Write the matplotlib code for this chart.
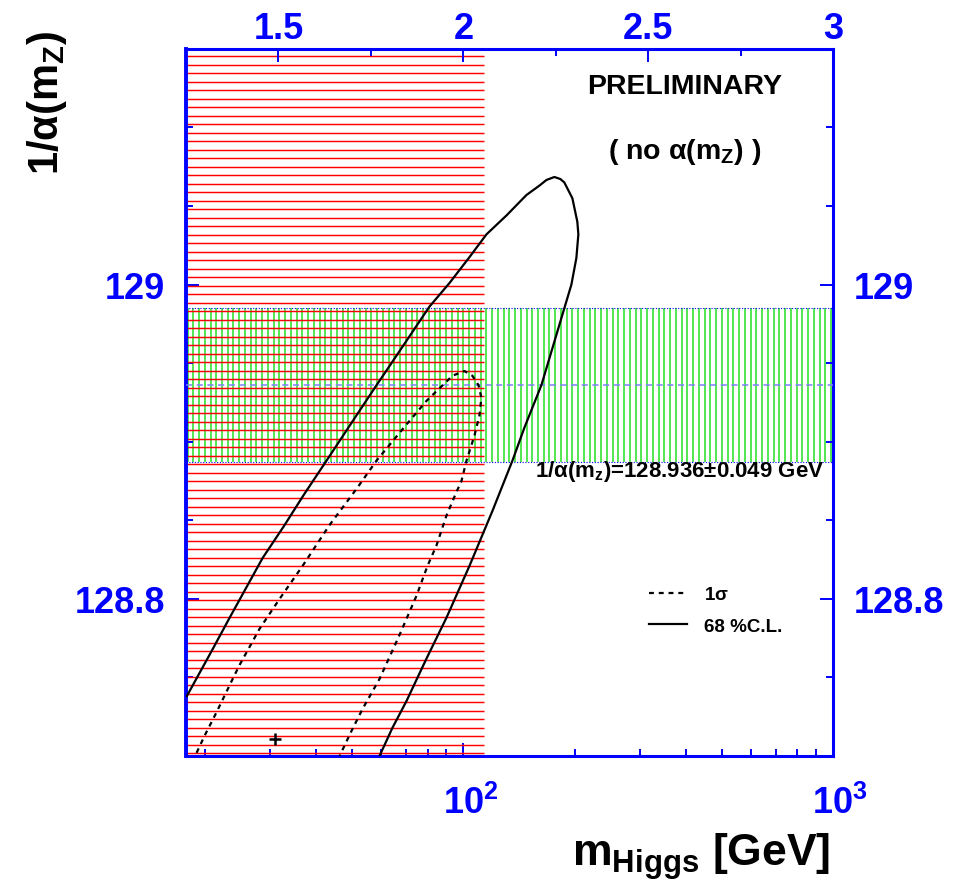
import numpy as np
import matplotlib
matplotlib.use('Agg')
import matplotlib.pyplot as plt
import matplotlib.transforms as mtransforms
from matplotlib.ticker import FixedLocator, MultipleLocator, LogLocator, NullFormatter, FuncFormatter

plt.rcParams['font.family'] = ['Liberation Sans', 'DejaVu Sans']
plt.rcParams['font.weight'] = 'bold'
plt.rcParams['mathtext.fontset'] = 'custom'
plt.rcParams['mathtext.rm'] = 'Liberation Sans:bold'
plt.rcParams['mathtext.bf'] = 'Liberation Sans:bold'
plt.rcParams['mathtext.sf'] = 'Liberation Sans:bold'
plt.rcParams['mathtext.it'] = 'Liberation Sans'

# 68% C.L. contour (solid), mH in GeV vs 1/alpha(mZ)
mh_68 = [17.86, 20.99, 23.33, 28.65, 32.65, 37.21, 42.94, 50.16, 58.24, 64.33,
         80.98, 91.73, 103.9, 115.5, 130.8, 148.1, 160.6, 167.8, 176.3, 183.0, 187.6, 197.2,
         203.4, 204.7, 202.2, 196.0, 187.6, 162.6, 146.3, 135.8, 119.9, 103.9,
         90.03, 79.50, 70.20, 64.33, 59.33]
ia_68 = [128.738, 128.768, 128.788, 128.826, 128.846, 128.867, 128.889, 128.913, 128.936, 128.951,
         128.986, 129.001, 129.0175, 129.032, 129.044, 129.057, 129.063, 129.0666, 129.0685, 129.0672,
         129.065, 129.055,
         129.040, 129.032, 129.017, 129.000, 128.985, 128.936, 128.909, 128.888, 128.856, 128.821,
         128.788, 128.762, 128.735, 128.718, 128.700]

# 1 sigma contour (dashed)
mh_1s = [18.99, 19.97, 21.52, 23.77, 24.83, 28.12, 31.85, 36.75, 43.47, 51.42,
         58.24, 70.20, 79.50, 93.46, 100.7, 105.8, 109.9, 111.9, 110.6, 107.2,
         102.0, 98.83, 95.8, 90.03, 84.6, 80.0, 74.7, 67.2, 59.33, 53.4,
         49.85, 46.27]
ia_1s = [128.702, 128.713, 128.728, 128.749, 128.758, 128.781, 128.800, 128.821, 128.847, 128.870,
         128.888, 128.911, 128.926, 128.942, 128.945, 128.942, 128.936, 128.928, 128.917, 128.904,
         128.888, 128.875, 128.868, 128.853, 128.834, 128.821, 128.802, 128.777, 128.749, 128.730,
         128.716, 128.700]

ia_meas = 128.936
ia_err = 0.049
mh_lep = 114.0
fit_mh = 31.0
fit_ia = 128.711

x_range = (10 ** 1.25, 1000.0)
y_range = (128.70, 129.15)
top_ticks = [1.5, 2.0, 2.5, 3.0]

blue = '#0000ff'

fig = plt.figure(figsize=(9.69, 8.87), dpi=100)
ax = fig.add_axes([0.192, 0.1466, 0.6677, 0.7971])
ax.set_xscale('log')
ax.set_xlim(*x_range)
ax.set_ylim(*y_range)

# green band: measured 1/alpha(mZ)
gx = 10 ** np.arange(np.log10(x_range[0]) + 0.004, 3.0, 0.01554)
ax.vlines(gx, ia_meas - ia_err, ia_meas + ia_err, colors='#22e022', lw=1.1, zorder=1)

# red hatch: LEP direct exclusion
hy = np.arange(y_range[1] - 0.0047, y_range[0], -0.00541)
ax.hlines(hy, x_range[0], mh_lep, colors='#ff0000', lw=1.05, zorder=2)

ax.axhline(ia_meas + ia_err, color=blue, ls=(0, (1, 1.5)), lw=0.8, zorder=3)
ax.axhline(ia_meas - ia_err, color=blue, ls=(0, (1, 1.5)), lw=0.8, zorder=3)
ax.axhline(ia_meas, color='#7f7fff', ls=(0, (4, 3)), lw=1.1, zorder=3)

l68, = ax.plot(mh_68, ia_68, color='k', lw=1.6, zorder=4)
l1s, = ax.plot(mh_1s, ia_1s, color='k', lw=1.6, ls=(0, (2.2, 2.2)), zorder=4)
ax.plot([fit_mh], [fit_ia], marker='+', color='k', ms=9, mew=1.8, zorder=5)

for s in ax.spines.values():
    s.set_color(blue)
    s.set_linewidth(2.2)
ax.spines['left'].set_linewidth(2.8)

ax.xaxis.set_major_locator(FixedLocator([100, 1000]))
ax.xaxis.set_minor_locator(LogLocator(base=10, subs=np.arange(2, 10)))
ax.xaxis.set_minor_formatter(NullFormatter())
ax.set_xticklabels([r'10$^{2}$', r'10$^{3}$'])
ax.yaxis.set_major_locator(FixedLocator([128.8, 129.0]))
ax.yaxis.set_minor_locator(MultipleLocator(0.05))
ax.set_yticklabels(['128.8', '129'])
ax.tick_params(axis='both', which='both', direction='in', colors=blue, width=1.4, labelsize=26)
ax.tick_params(which='major', length=9.5)
ax.tick_params(which='minor', length=5)
ax.tick_params(axis='y', which='both', right=True, labelright=True, pad=15)
ax.tick_params(axis='x', which='both', top=False, pad=21)

ax2 = ax.twiny()
ax2.set_xlim(np.log10(x_range[0]), np.log10(x_range[1]))
ax2.xaxis.set_major_locator(FixedLocator(top_ticks))
ax2.xaxis.set_minor_locator(MultipleLocator(0.25))
ax2.xaxis.set_major_formatter(FuncFormatter(lambda v, p: f'{v:g}'))
ax2.tick_params(axis='x', which='both', direction='in', colors=blue, width=1.4, labelsize=26, pad=2)
ax2.tick_params(which='major', length=9.5)
ax2.tick_params(which='minor', length=5)
for s in ax2.spines.values():
    s.set_visible(False)

ax.text(0.770, 0.948, 'PRELIMINARY', transform=ax.transAxes, ha='center', va='center', fontsize=20.5)
ax.text(0.771, 0.855, r'( no $\alpha$(m$_{\rm Z}$) )', transform=ax.transAxes,
        ha='center', va='center', fontsize=20.5)
ax.text(0.7635, 0.404, r'1/$\alpha$(m$_{\rm z}$)=' + f'{ia_meas:.3f}' + r'$\pm$' + f'{ia_err:.3f} GeV',
        transform=ax.transAxes, ha='center', va='center', fontsize=16, zorder=6)

ax.legend(handles=[l1s, l68], labels=[r'1$\sigma$', '68 %C.L.'], loc='upper left',
          bbox_to_anchor=(0.7156, 0.240), frameon=False, fontsize=13.5, handlelength=2.0,
          handletextpad=0.95, labelspacing=0.75, borderpad=0, borderaxespad=0)

fig.text(47 / 969, 1 - 103 / 887, r'1/$\alpha$(m$_{\rm Z}$)', rotation=90, fontsize=30,
         ha='center', va='center')
fig.text(830 / 969, 1 - 866 / 887, r'm$_{\rm Higgs}$ [GeV]', fontsize=32, ha='right', va='baseline')

off = mtransforms.ScaledTranslation(7 / 100, 0, fig.dpi_scale_trans)
for lab in ax.get_xticklabels():
    lab.set_transform(lab.get_transform() + off)

fig.savefig('out.png', dpi=100)
